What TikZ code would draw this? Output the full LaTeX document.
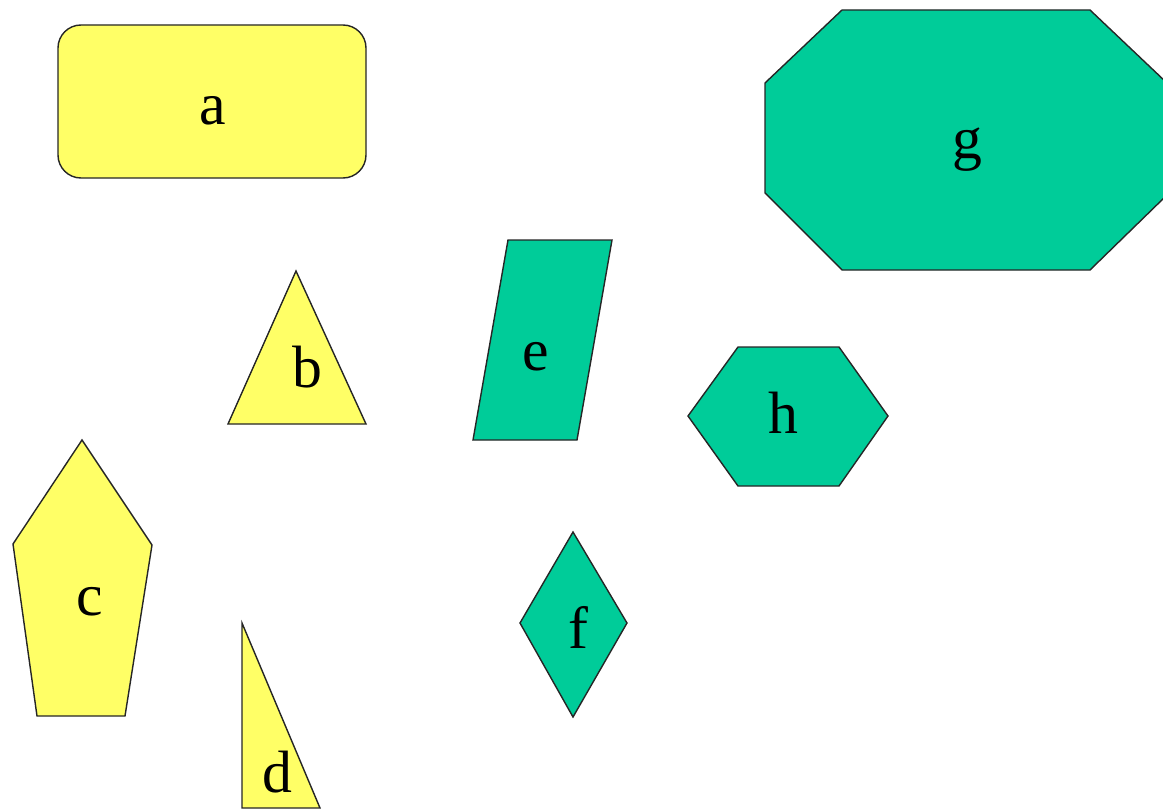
\documentclass[tikz,border=0pt]{standalone}
\usepackage{fontspec}
\setmainfont{Liberation Serif}
\definecolor{shapeyellow}{RGB}{255,255,102}
\definecolor{shapegreen}{RGB}{0,204,153}
\begin{document}
\begin{tikzpicture}[x=0.02cm, y=-0.02cm,
  yshape/.style={draw=black!85, line width=0.8pt, fill=shapeyellow, line join=miter},
  gshape/.style={draw=black!85, line width=0.8pt, fill=shapegreen, line join=miter},
  letter/.style={inner sep=0pt, font=\fontsize{34}{34}\selectfont}]
\useasboundingbox (0,0) rectangle (1163,811);
% yellow shapes
\draw[yshape, rounded corners=0.46cm] (58,25) rectangle (366,178);
\draw[yshape] (296,271) -- (366,424) -- (228,424) -- cycle;
\draw[yshape] (82,440) -- (152,545) -- (125,716) -- (37,716) -- (13,544) -- cycle;
\draw[yshape] (242,623) -- (320,808) -- (242,808) -- cycle;
% green shapes
\draw[gshape] (508,240) -- (612,240) -- (577,440) -- (473,440) -- cycle;
\draw[gshape] (573,532) -- (627,623) -- (573,717) -- (520,623) -- cycle;
\draw[gshape] (842,10) -- (1090,10) -- (1167,83) -- (1167,195) -- (1090,270) -- (842,270) -- (765,193) -- (765,83) -- cycle;
\draw[gshape] (738,347) -- (839,347) -- (888,416) -- (839,486) -- (738,486) -- (688,416) -- cycle;
% letters
\node[letter] (a) at (213,111) {a};
\node[letter] (b) at (307,367) {b};
\node[letter] (c) at (90,602) {c};
\node[letter] (d) at (277,772) {d};
\node[letter] (e) at (536,357) {e};
\node[letter] (f) at (578,627) {f};
\node[letter] (g) at (967,150) {g};
\node[letter] (h) at (783,413) {h};
\end{tikzpicture}
\end{document}
